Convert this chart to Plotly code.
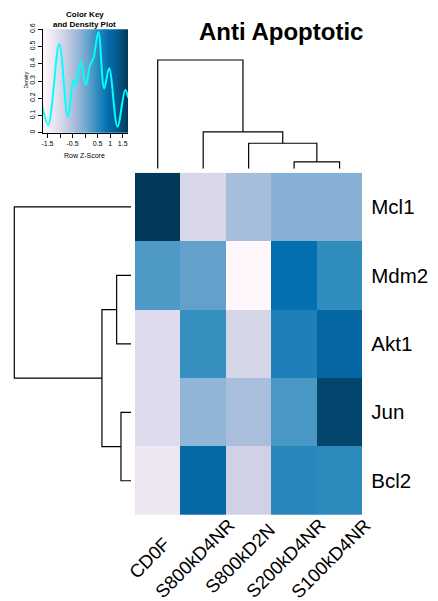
import numpy as np
import plotly.graph_objects as go

# ---------------- data ----------------
col_labels = ["CD0F", "S800kD4NR", "S800kD2N", "S200kD4NR", "S100kD4NR"]
row_labels = ["Mcl1", "Mdm2", "Akt1", "Jun", "Bcl2"]

# row z-scores (rows top->bottom, columns left->right)
z_Mcl1 = [1.70, -0.97, -0.43, -0.15, -0.15]
z_Mdm2 = [0.26, 0.13, -1.70, 0.85, 0.47]
z_Akt1 = [-1.06, 0.43, -0.93, 0.64, 1.02]
z_Jun = [-1.06, -0.25, -0.45, 0.30, 1.53]
z_Bcl2 = [-1.28, 0.98, -0.85, 0.55, 0.51]

# dendrogram merges: (left child, right child, height); "m#" = earlier merge
col_merges = [
    ("S200kD4NR", "S100kD4NR", 0.062),
    ("S800kD2N", "m0", 0.234),
    ("S800kD4NR", "m1", 0.338),
    ("CD0F", "m2", 1.0),
]
row_merges = [
    ("Mdm2", "Akt1", 0.123),
    ("Jun", "Bcl2", 0.086),
    ("m0", "m1", 0.249),
    ("Mcl1", "m2", 1.0),
]

# density of row z-scores (colour key)
dens_z = [-1.70, -1.47, -1.03, -0.69, -0.46, -0.37, -0.17, 0.03, 0.20, 0.33,
          0.53, 0.76, 0.96, 1.29, 1.60, 1.72]
dens_y = [0.151, 0.045, 0.515, 0.093, 0.306, 0.277, 0.412, 0.277, 0.393, 0.432,
          0.583, 0.257, 0.374, 0.035, 0.248, 0.203]

key_xticks = [-1.5, -1, -0.5, 0, 0.5, 1, 1.5]
key_xtext = ["-1.5", "", "-0.5", "", "0.5", "1", "1.5"]
key_yticks = [0, 0.1, 0.2, 0.3, 0.4, 0.5, 0.6]
key_ytext = ["0", "0.1", "0.2", "0.3", "0.4", "0.5", "0.6"]

# ---------------- styling ----------------
W, H = 438, 601
FONT = "Liberation Sans, Arial, Helvetica, sans-serif"
PUBU = ["#fff7fb", "#ece7f2", "#d0d1e6", "#a6bddb", "#74a9cf",
        "#3690c0", "#0570b0", "#045a8d", "#023858"]
colorscale = [[i / (len(PUBU) - 1), c] for i, c in enumerate(PUBU)]
ZMIN, ZMAX = -1.7, 1.7


def px_x(a, b):
    return [a / W, b / W]


def px_y(top, bottom):
    return [1 - bottom / H, 1 - top / H]


def dendro_segments(leaves, merges):
    pos = {name: (i, 0.0) for i, name in enumerate(leaves)}
    xs, hs = [], []
    for k, (a, b, h) in enumerate(merges):
        xa, ha = pos[a]
        xb, hb = pos[b]
        xs += [xa, xa, xb, xb, None]
        hs += [ha, h, h, hb, None]
        pos["m%d" % k] = ((xa + xb) / 2, h)
    return xs, hs


zmat = [z_Mcl1, z_Mdm2, z_Akt1, z_Jun, z_Bcl2]
idx_c = list(range(len(col_labels)))
idx_r = list(range(len(row_labels)))

fig = go.Figure()

# heatmap
fig.add_trace(go.Heatmap(
    z=zmat, x=idx_c, y=idx_r, colorscale=colorscale, zmin=ZMIN, zmax=ZMAX,
    showscale=False, xaxis="x", yaxis="y", hoverinfo="skip"))

# column dendrogram
cx, ch = dendro_segments(col_labels, col_merges)
fig.add_trace(go.Scatter(x=cx, y=ch, mode="lines", xaxis="x2", yaxis="y2",
                         line=dict(color="black", width=1.2), hoverinfo="skip"))

# row dendrogram
rx, rh = dendro_segments(row_labels, row_merges)
fig.add_trace(go.Scatter(x=rh, y=rx, mode="lines", xaxis="x3", yaxis="y3",
                         line=dict(color="black", width=1.2), hoverinfo="skip"))

# colour key gradient + density
kz = np.linspace(ZMIN, ZMAX, 300)
fig.add_trace(go.Heatmap(
    z=[kz, kz], x=kz, y=[0, 0.6], colorscale=colorscale, zmin=ZMIN, zmax=ZMAX,
    showscale=False, xaxis="x4", yaxis="y4", hoverinfo="skip"))
fig.add_trace(go.Scatter(x=dens_z, y=dens_y, mode="lines", xaxis="x4", yaxis="y4",
                         line=dict(color="cyan", width=2, shape="spline", smoothing=1.0),
                         hoverinfo="skip"))

hm_x = px_x(135, 362.3)
hm_y = px_y(172.7, 515)
pad = 0.05

hidden = dict(visible=False, showgrid=False, zeroline=False, automargin=False)

fig.update_layout(
    width=W, height=H, autosize=False,
    margin=dict(l=0, r=0, t=0, b=0, autoexpand=False),
    paper_bgcolor="white", plot_bgcolor="white",
    showlegend=False,
    font=dict(family=FONT, color="black"),
    xaxis=dict(domain=hm_x, range=[-0.5, 4.5], showticklabels=False, ticks="",
               showgrid=False, zeroline=False, showline=False, anchor="y",
               automargin=False),
    yaxis=dict(domain=hm_y, range=[4.5, -0.5], tickvals=idx_r, ticktext=row_labels,
               side="right", tickfont=dict(size=20.5), ticks="", showgrid=False,
               zeroline=False, showline=False, anchor="x", ticklabelstandoff=8,
               automargin=False),
    xaxis2=dict(domain=hm_x, range=[-0.5, 4.5], anchor="y2", **hidden),
    yaxis2=dict(domain=px_y(60 - pad * 108.7, 168.7), range=[0, 1 + pad],
                anchor="x2", **hidden),
    xaxis3=dict(domain=px_x(14.3 - pad * 116.7, 131), range=[1 + pad, 0],
                anchor="y3", **hidden),
    yaxis3=dict(domain=hm_y, range=[4.5, -0.5], anchor="x3", **hidden),
    xaxis4=dict(domain=px_x(42.7, 128), range=[-1.69, 1.71], anchor="y4",
                tickvals=key_xticks, ticktext=key_xtext, ticks="outside", ticklen=4,
                tickwidth=1, tickcolor="black", tickfont=dict(size=7),
                showline=True, linecolor="black", linewidth=1, showgrid=False,
                zeroline=False, automargin=False),
    yaxis4=dict(domain=px_y(29.3, 132.7), range=[0, 0.6], anchor="x4",
                tickvals=key_yticks, ticktext=key_ytext, ticks="outside", ticklen=4,
                tickwidth=1, tickcolor="black", tickfont=dict(size=7), tickangle=-90,
                showline=True, linecolor="black", linewidth=1, showgrid=False,
                zeroline=False, automargin=False),
)

# column labels: centred, rotated 45 degrees below the heatmap
for i, lab in zip(idx_c, col_labels):
    fig.add_annotation(text=lab, x=i, xref="x", y=1 - 558 / H, yref="paper",
                       xshift=-9, xanchor="center", yanchor="middle",
                       textangle=-45, showarrow=False,
                       font=dict(size=18.5, family=FONT, color="black"))

ann = [
    dict(text="<b>Anti Apoptotic</b>", x=280.5 / W, y=1 - 32 / H, size=24, angle=0),
    dict(text="<b>Color Key</b>", x=84.8 / W, y=1 - 14.3 / H, size=8, angle=0),
    dict(text="<b>and Density Plot</b>", x=84.8 / W, y=1 - 24.3 / H, size=8, angle=0),
    dict(text="Row Z-Score", x=84.8 / W, y=1 - 155 / H, size=7, angle=0),
    dict(text="Density", x=25.5 / W, y=1 - 80 / H, size=5, angle=-90),
]
for a in ann:
    fig.add_annotation(text=a["text"], x=a["x"], y=a["y"], xref="paper", yref="paper",
                       xanchor="center", yanchor="middle", showarrow=False,
                       textangle=a["angle"], font=dict(size=a["size"], family=FONT,
                                                       color="black"))

fig.write_html("out.html")
